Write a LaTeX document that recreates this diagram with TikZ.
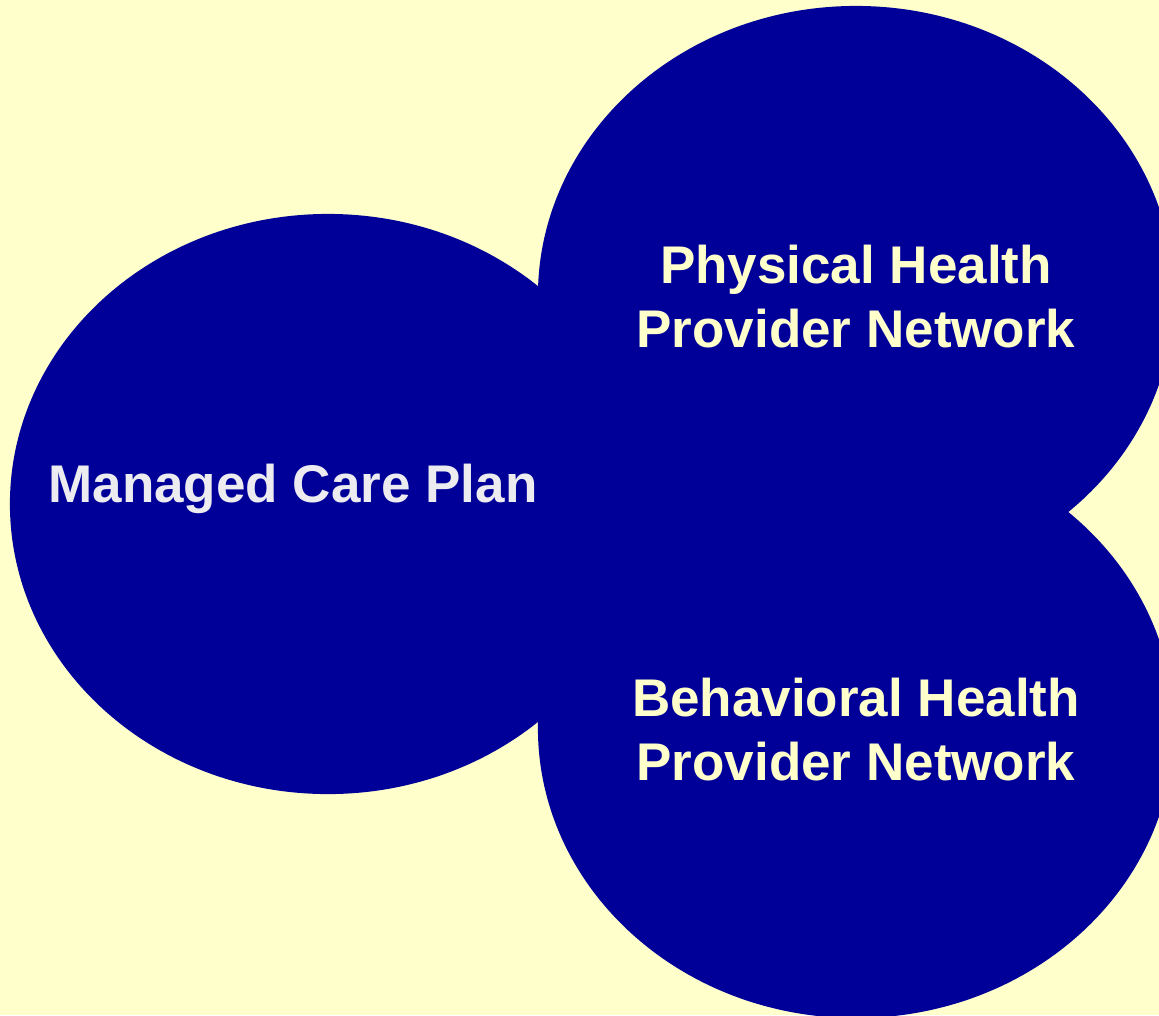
\documentclass[tikz,border=0pt]{standalone}
\usepackage{fontspec}
\setmainfont{Liberation Sans}
\usetikzlibrary{shapes.geometric}

\definecolor{paleyellow}{HTML}{FFFFCC}
\definecolor{planblue}{HTML}{000099}
\definecolor{plangray}{HTML}{EBEBF0}

\tikzstyle{blob}=[ellipse, fill=planblue, minimum width=15.9cm, minimum height=14.5cm, inner sep=0pt]
\tikzstyle{nettext}=[text=paleyellow, font=\bfseries\fontsize{37.7}{45.5}\selectfont, align=center]

\begin{document}
\begin{tikzpicture}[x=0.025cm, y=-0.025cm]
    \useasboundingbox (0,0) rectangle (1159,1015);
    \clip (0,0) rectangle (1159,1015);
    \fill[paleyellow] (0,0) rectangle (1159,1015);

    \node[blob] (plan) at (328, 504) {};
    \node[blob] (physical) at (856, 296) {};
    \node[blob] (behavioral) at (856, 728) {};

    \node[nettext, text=plangray, anchor=base] (plantext) at (293, 502) {Managed Care Plan};
    \node[nettext] (physicaltext) at (856, 296.5) {Physical Health\\Provider Network};
    \node[nettext] (behavioraltext) at (856, 730) {Behavioral Health\\Provider Network};
  \end{tikzpicture}
\end{document}
